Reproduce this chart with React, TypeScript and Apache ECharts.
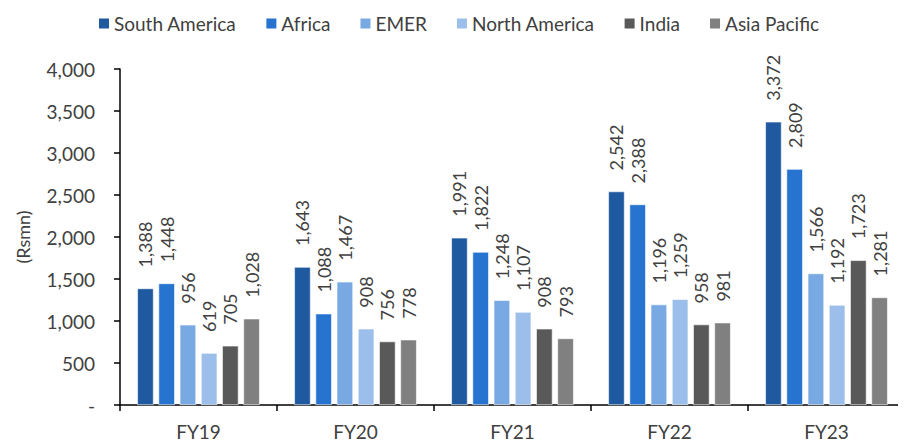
import React, { useEffect, useRef } from "react";
import * as echarts from "echarts";

const categories = ["FY19", "FY20", "FY21", "FY22", "FY23"];
const seriesNames = ["South America", "Africa", "EMER", "North America", "India", "Asia Pacific"];
const southAmerica = [1388, 1643, 1991, 2542, 3372];
const africa = [1448, 1088, 1822, 2388, 2809];
const emer = [956, 1467, 1248, 1196, 1566];
const northAmerica = [619, 908, 1107, 1259, 1192];
const india = [705, 756, 908, 958, 1723];
const asiaPacific = [1028, 778, 793, 981, 1281];
const colors = ["#1F5AA0", "#2673D0", "#79A9E3", "#9BBFEA", "#595959", "#808080"];

const fmt = (v: number) => (v === 0 ? "-" : v.toLocaleString("en-US"));

export default function App() {
  const ref = useRef<HTMLDivElement>(null);
  useEffect(() => {
    if (!ref.current) return;
    const chart = echarts.init(ref.current, null, { renderer: "svg" });
    const values = [southAmerica, africa, emer, northAmerica, india, asiaPacific];
    const font = "Lato, 'Open Sans', sans-serif";
    const textColor = "#404040";
    chart.setOption({
      animation: false,
      textStyle: { fontFamily: font },
      legend: {
        top: 1,
        left: 84,
        itemWidth: 12,
        itemHeight: 12,
        itemGap: 28,
        icon: "rect",
        textStyle: { fontSize: 19, color: textColor, fontFamily: font, padding: [0, 0, 0, -1] },
        data: seriesNames,
      },
      grid: {
        left: 112,
        right: 1,
        top: 61,
        bottom: 40,
        containLabel: false,
        outerBoundsMode: "none",
      },
      xAxis: {
        type: "category",
        data: categories,
        axisLine: { lineStyle: { color: "#000", width: 1.5 } },
        axisTick: { show: true, length: 6, lineStyle: { color: "#000", width: 1.5 } },
        axisLabel: { fontSize: 19, color: textColor, margin: 17, fontFamily: font },
      },
      yAxis: {
        type: "value",
        min: 0,
        max: 4000,
        interval: 500,
        name: "(Rsmn)",
        nameLocation: "middle",
        nameGap: 88,
        nameRotate: 90,
        nameTextStyle: { fontSize: 18, color: textColor, fontFamily: font },
        splitLine: { show: false },
        axisLine: { show: true, lineStyle: { color: "#000", width: 1.5 } },
        axisTick: { show: true, length: 6, lineStyle: { color: "#000", width: 1.5 } },
        axisLabel: { fontSize: 19, color: textColor, margin: 25, formatter: fmt, fontFamily: font },
      },
      series: seriesNames.map((name, i) => ({
        name,
        type: "bar",
        data: values[i],
        barCategoryGap: "22%",
        barGap: "30%",
        itemStyle: { color: colors[i], borderColor: "#ffffff", borderWidth: 0.6 },
        label: {
          show: true,
          position: "top",
          rotate: 90,
          align: "left",
          verticalAlign: "middle",
          distance: 21,
          fontSize: 18,
          color: textColor,
          fontFamily: font,
          formatter: (p: any) => fmt(p.value),
        },
      })),
    });
    return () => chart.dispose();
  }, []);
  return <div ref={ref} style={{ width: 898, height: 437 }} />;
}
